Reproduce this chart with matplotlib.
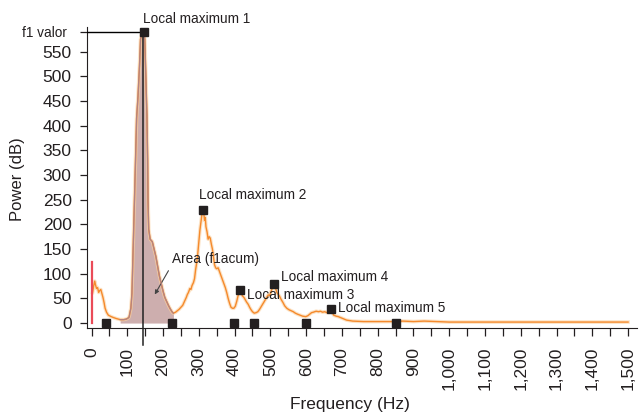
import matplotlib
matplotlib.use('Agg')
import matplotlib.pyplot as plt

plt.rcParams['font.family'] = ['Liberation Sans', 'DejaVu Sans']

# spectrum (Hz, power)
freq = [3, 6, 9, 11, 14, 17, 20, 23, 26, 29, 32, 35, 38, 42, 47, 55, 62, 70, 80, 90, 97, 102,
        105, 110, 113, 116, 119, 123, 126, 130, 134, 137, 140, 143, 146, 149, 152, 155, 157, 158,
        160, 164, 170, 175, 180, 185, 190, 195, 200, 205, 210, 215, 220, 226, 229,
        235, 240, 245, 250, 255, 260, 265, 268, 271, 275, 278, 281, 285, 288, 291, 294, 297,
        300, 303, 306, 309, 312, 314, 316, 318, 320, 323, 326, 329, 332, 335, 338, 341, 344,
        347, 350, 354, 358, 362, 366, 370, 374, 378, 382, 386, 390, 394, 398, 402, 406, 410,
        413, 416, 419, 422, 426, 430, 434, 438, 442, 446, 450, 455, 460, 465, 470, 475, 480,
        485, 490, 494, 498, 502, 506, 511, 514, 518, 522, 526, 530, 535, 540, 546, 552, 558,
        564, 570, 576, 583, 590, 599, 605, 610, 615, 620, 628, 635, 640, 646, 652, 658, 664,
        669, 673, 677, 684, 690, 700, 713, 730, 760, 800, 850, 870, 900, 930, 1000, 1100, 1200,
        1300, 1400, 1500]
power = [62, 75, 85, 78, 70, 72, 62, 66, 68, 60, 52, 42, 30, 22, 16, 13, 11, 9, 7, 7, 8, 10,
         12, 30, 60, 140, 220, 330, 415, 460, 520, 575, 585, 590, 592, 575, 500, 420, 330, 250,
         190, 170, 165, 150, 135, 115, 95, 80, 65, 52, 44, 36, 29, 22, 20,
         22, 25, 28, 32, 36, 44, 52, 58, 62, 70, 68, 76, 82, 90, 108, 122, 140,
         165, 188, 205, 222, 232, 222, 208, 214, 195, 185, 170, 175, 172, 160, 150, 134, 118,
         112, 110, 112, 104, 96, 88, 80, 72, 62, 50, 40, 32, 30, 30, 34, 44, 56,
         62, 66, 60, 55, 52, 47, 42, 38, 32, 27, 23, 20, 21, 23, 28, 34, 40,
         46, 52, 57, 56, 64, 72, 78, 72, 62, 58, 54, 48, 42, 35, 30, 27, 25,
         23, 20, 18, 16, 14, 13, 15, 18, 21, 22, 24, 23, 24, 22, 23, 21, 25,
         27, 22, 16, 14, 13, 10, 6, 4, 3, 3, 3, 4, 3, 4, 2, 2, 2,
         2, 2, 2]

# f1 region and markers
f1_freq = 143
f1_value = 590
area_lo, area_hi = 80, 229
max_freq = [147, 312.6, 416, 511, 669]
max_power = [590, 230, 66, 80, 28]
min_freq = [40, 226, 399, 455, 599, 851]
min_power = [0, 0, 0, 0, 0, 0]
max_labels = ['Local maximum 1', 'Local maximum 2', 'Local maximum 3',
              'Local maximum 4', 'Local maximum 5']
label_pos = [(145, 616), (301, 259), (434, 57), (529, 94), (690, 30)]
red_freq = 0.5
red_top = 124

yticks = list(range(0, 600, 50)) + [f1_value]
ylabels = [str(v) for v in range(0, 600, 50)] + ['f1 valor']
xticks = list(range(0, 1501, 50))
xlabels = ['{:,}'.format(v) if v % 100 == 0 else '' for v in xticks]

txt = '#231f20'
fig = plt.figure(figsize=(6.4, 4.16), dpi=100)
ax = fig.add_axes([87 / 640, 1 - 327.5 / 416, 550 / 640, 300.5 / 416])
ax.set_xlim(-12.6, 1525)
ax.set_ylim(-9, 600)

# shaded area under f1
in_area = [i for i, f in enumerate(freq) if area_lo <= f <= area_hi]
fa = [freq[i] for i in in_area]
pa = [power[i] for i in in_area]
ax.fill_between(fa, 0, pa, color='#cdaeae', lw=0, zorder=1)

# orange spectrum with light halo
ax.plot(freq, power, color='#fbd09f', lw=2.6, alpha=0.6, zorder=2, solid_joinstyle='round')
ax.plot(freq, power, color='#f58a2c', lw=1.0, zorder=3)
ax.plot(fa, pa, color='#b38383', lw=0.9, zorder=4)

ax.plot([red_freq, red_freq], [0, red_top], color='#ea4b58', lw=1.6, zorder=4)

# f1 guide lines
ax.plot([-12.6, max_freq[0]], [f1_value, f1_value], color='black', lw=1, zorder=5)
ax.plot([f1_freq, f1_freq], [f1_value, -45], color='#222222', lw=1.1, zorder=5, clip_on=False)

ax.plot(max_freq, max_power, 's', color=txt, ms=6, zorder=6, clip_on=False)
ax.plot(min_freq, min_power, 's', color=txt, ms=6, zorder=6, clip_on=False)

for lab, (x, y) in zip(max_labels, label_pos):
    ax.text(x, y, lab, fontsize=9.8, color=txt, ha='left', va='center', zorder=7)

ax.text(226, 130, 'Area (f1acum)', fontsize=9.8, color=txt, ha='left', va='center', zorder=7)
ax.annotate('', xy=(173, 53), xytext=(219, 111),
            arrowprops=dict(arrowstyle='-|>', color='#444444', lw=0.8, mutation_scale=6))

ax.spines['top'].set_visible(False)
ax.spines['right'].set_visible(False)
ax.spines['left'].set_color(txt)
ax.spines['bottom'].set_color(txt)

ax.set_yticks(yticks)
ax.set_yticklabels(ylabels)
ax.set_xticks(xticks)
ax.set_xticklabels(xlabels, rotation=90)
ax.tick_params(axis='y', length=5, width=0.9, pad=6, labelsize=12.5, colors=txt)
ax.tick_params(axis='x', length=6, width=0.9, pad=8, labelsize=12.5, colors=txt)
f1_lab = ax.get_yticklabels()[-1]
f1_lab.set_fontsize(9.8)
f1_lab.set_x(-0.008)

fig.text(350 / 640, 1 - 405 / 416, 'Frequency (Hz)', fontsize=12.5, color=txt,
         ha='center', va='center')
fig.text(18 / 640, 1 - 179 / 416, 'Power (dB)', fontsize=12, color=txt,
         ha='center', va='center', rotation=90)

fig.savefig('out.png', dpi=100)
